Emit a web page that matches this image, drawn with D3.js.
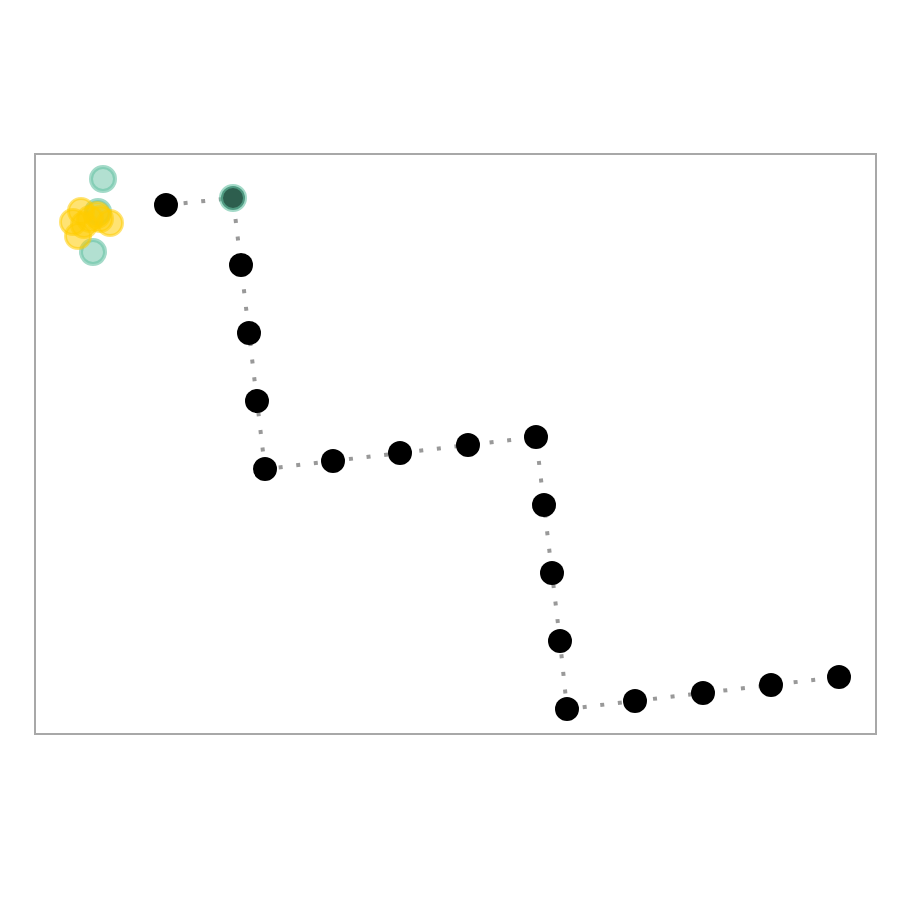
<!DOCTYPE html>
<html><head><meta charset="utf-8">
<script src="https://cdn.jsdelivr.net/npm/d3@7"></script>
<style>body{margin:0;background:#fff}svg{display:block}</style>
</head><body>
<script>
// trail of points (data units = px-like coordinates within frame)
const trailX = [131,198,206,214,222,230,298,365,433,501,509,517,525,532,600,668,736,804];
const trailY = [51,44,111,179,247,315,307,299,291,283,351,419,487,555,547,539,531,523];
const highlightIndex = 1;
// cluster nodes
const yellowX = [46,38,43,75,62,65,55,49];
const yellowY = [57,68,82,69,61,65,65,71];
const greenX = [68,58,63];
const greenY = [25,98,58];

const W=900,H=900;
const frame={x0:35,y0:154,x1:876,y1:734};
const x=d3.scaleLinear().domain([0,841]).range([frame.x0,frame.x1]);
const y=d3.scaleLinear().domain([0,580]).range([frame.y0,frame.y1]);

const svg=d3.select("body").append("svg").attr("width",W).attr("height",H);
svg.append("rect").attr("x",frame.x0).attr("y",frame.y0)
  .attr("width",frame.x1-frame.x0).attr("height",frame.y1-frame.y0)
  .attr("fill","none").attr("stroke","#a8a8a8").attr("stroke-width",2);

const trail=trailX.map((v,i)=>({x:v,y:trailY[i]}));
svg.append("path").datum(trail)
  .attr("d",d3.line().x(d=>x(d.x)).y(d=>y(d.y)))
  .attr("fill","none").attr("stroke","#999").attr("stroke-width",4)
  .attr("stroke-dasharray","4,13.7");

svg.selectAll(".t").data(trail.filter((d,i)=>i!==highlightIndex)).join("circle")
  .attr("cx",d=>x(d.x)).attr("cy",d=>y(d.y)).attr("r",12).attr("fill","#000");

const green=greenX.map((v,i)=>({x:v,y:greenY[i]}));
svg.selectAll(".g").data(green).join("circle")
  .attr("cx",d=>x(d.x)).attr("cy",d=>y(d.y)).attr("r",12)
  .attr("fill","#66c2a4").attr("fill-opacity",0.5)
  .attr("stroke","#66c2a4").attr("stroke-opacity",0.6).attr("stroke-width",4);

const yellow=yellowX.map((v,i)=>({x:v,y:yellowY[i]}));
svg.selectAll(".y").data(yellow).join("circle")
  .attr("cx",d=>x(d.x)).attr("cy",d=>y(d.y)).attr("r",12.5)
  .attr("fill","#ffcc00").attr("fill-opacity",0.55)
  .attr("stroke","#ffcc00").attr("stroke-opacity",0.55).attr("stroke-width",3);

const h=trail[highlightIndex];
svg.append("circle").attr("cx",x(h.x)).attr("cy",y(h.y)).attr("r",12)
  .attr("fill","#2d5e4e").attr("stroke","#66c2a4").attr("stroke-opacity",0.6).attr("stroke-width",4);
</script>
</body></html>
